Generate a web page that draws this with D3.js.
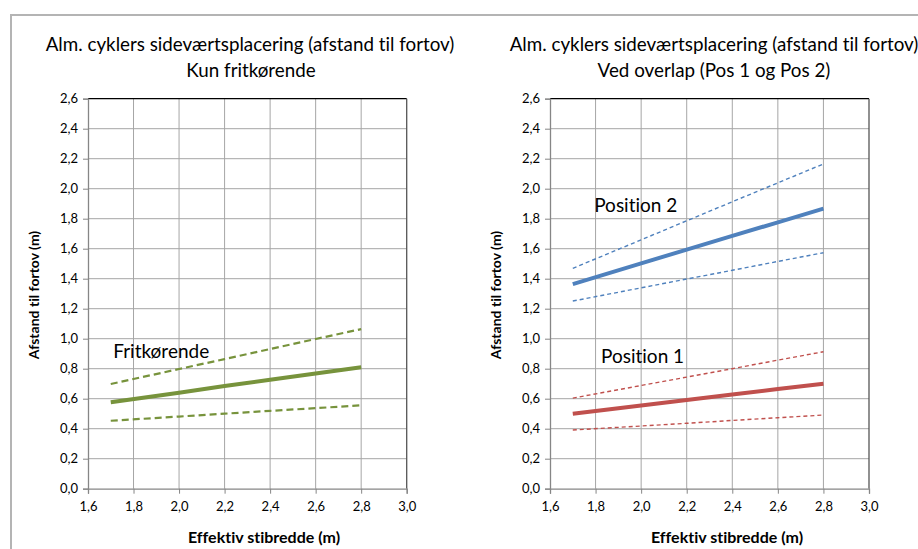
<!DOCTYPE html>
<html>
<head>
<meta charset="utf-8">
<script src="https://cdn.jsdelivr.net/npm/d3@7"></script>
<style>
  body { margin: 0; background: #fff; }
  svg { display: block; font-family: Lato, "Open Sans", sans-serif; font-variant-ligatures: none; }
</style>
</head>
<body>
<svg id="chart" width="918" height="549"></svg>
<script>
// x values (effektiv stibredde, m) where the curves were read
var widths = [1.7, 2.0, 2.2, 2.4, 2.6, 2.8];

// left panel: fritkørende
var friMid = [0.576, 0.640, 0.684, 0.726, 0.768, 0.809];
var friHigh = [0.698, 0.798, 0.864, 0.931, 0.998, 1.064];
var friLow = [0.453, 0.481, 0.500, 0.519, 0.537, 0.556];

// right panel: position 2 (blue)
var pos2Mid = [1.364, 1.502, 1.594, 1.685, 1.776, 1.867];
var pos2High = [1.469, 1.659, 1.786, 1.913, 2.039, 2.165];
var pos2Low = [1.251, 1.339, 1.398, 1.456, 1.515, 1.573];

// right panel: position 1 (red)
var pos1Mid = [0.500, 0.555, 0.592, 0.628, 0.664, 0.700];
var pos1High = [0.604, 0.688, 0.744, 0.800, 0.857, 0.913];
var pos1Low = [0.391, 0.418, 0.436, 0.455, 0.473, 0.491];

var xTicks = [1.6, 1.8, 2.0, 2.2, 2.4, 2.6, 2.8, 3.0];
var yTicks = [0, 0.2, 0.4, 0.6, 0.8, 1.0, 1.2, 1.4, 1.6, 1.8, 2.0, 2.2, 2.4, 2.6];

var titleTop = "Alm. cyklers sideværtsplacering (afstand til fortov)";
var fmt = function (v) { return d3.format(".1f")(v).replace(".", ","); };

var svg = d3.select("#chart");

// outer frame
svg.append("path")
  .attr("d", "M11,549 L11,15 L918,15")
  .attr("fill", "none")
  .attr("stroke", "#b4b4b4")
  .attr("stroke-width", 2);

function panel(opts) {
  var top = 98.7, bottom = 488.7;
  var x = d3.scaleLinear().domain([1.6, 3.0]).range([opts.left, opts.right]);
  var y = d3.scaleLinear().domain([0, 2.6]).range([bottom, top]);
  var g = svg.append("g");

  // titles
  g.append("text")
    .attr("x", opts.cx).attr("y", 51)
    .attr("text-anchor", "middle")
    .style("font-size", "18.8px")
    .attr("fill", "#000")
    .text(titleTop);
  g.append("text")
    .attr("x", opts.cx2).attr("y", 77)
    .attr("text-anchor", "middle")
    .style("font-size", "18.8px")
    .attr("fill", "#000")
    .text(opts.sub);

  // grid
  g.append("g").selectAll("line").data(xTicks.slice(1, -1)).enter().append("line")
    .attr("x1", function (d) { return x(d); }).attr("x2", function (d) { return x(d); })
    .attr("y1", top).attr("y2", bottom)
    .attr("stroke", "#a6a6a6").attr("stroke-width", 1);
  g.append("g").selectAll("line").data(yTicks.slice(1, -1)).enter().append("line")
    .attr("x1", opts.left).attr("x2", opts.right)
    .attr("y1", function (d) { return y(d); }).attr("y2", function (d) { return y(d); })
    .attr("stroke", "#a6a6a6").attr("stroke-width", 1);

  // plot border top / right
  g.append("line").attr("x1", opts.left).attr("x2", opts.right)
    .attr("y1", top).attr("y2", top).attr("stroke", "#000").attr("stroke-width", 1.3);
  g.append("line").attr("x1", opts.right).attr("x2", opts.right)
    .attr("y1", top).attr("y2", bottom).attr("stroke", "#555").attr("stroke-width", 1.3);

  // axes
  var xAxis = g.append("g")
    .attr("transform", "translate(0," + bottom + ")")
    .call(d3.axisBottom(x).tickValues(xTicks).tickFormat(fmt).tickSizeOuter(0).tickSize(5).tickPadding(8));
  var yAxis = g.append("g")
    .attr("transform", "translate(" + opts.left + ",0)")
    .call(d3.axisLeft(y).tickValues(yTicks).tickFormat(fmt).tickSizeOuter(0).tickSize(5).tickPadding(5));
  [xAxis, yAxis].forEach(function (a) {
    a.select(".domain").attr("stroke", "#868686").attr("stroke-width", 1.3);
    a.selectAll(".tick line").attr("stroke", "#868686");
    a.selectAll(".tick text").attr("fill", "#000").style("font-size", "13px")
      .style("font-family", "Lato, sans-serif");
  });

  // axis titles
  g.append("text")
    .attr("x", opts.xtx).attr("y", 543)
    .attr("text-anchor", "middle")
    .style("font-size", "16px").style("font-weight", "bold")
    .text("Effektiv stibredde (m)");
  g.append("text")
    .attr("transform", "translate(" + opts.ytx + ",295) rotate(-90)")
    .attr("text-anchor", "middle")
    .style("font-size", "14px").style("font-weight", "bold")
    .text("Afstand til fortov (m)");

  var line = d3.line()
    .x(function (d) { return x(d[0]); })
    .y(function (d) { return y(d[1]); });

  opts.series.forEach(function (s) {
    g.append("path")
      .datum(d3.zip(widths, s.values))
      .attr("d", line)
      .attr("fill", "none")
      .attr("stroke", s.color)
      .attr("stroke-width", s.width)
      .attr("stroke-dasharray", s.dash || null);
  });

  opts.labels.forEach(function (l) {
    g.append("text")
      .attr("x", x(l.x)).attr("y", y(l.y))
      .style("font-size", "19px")
      .attr("fill", "#000")
      .text(l.text);
  });
}

var green = "#77933c", blue = "#4f81bd", red = "#c0504d";

panel({
  left: 88, right: 406.7, cx: 250, cx2: 251, xtx: 264, ytx: 39,
  sub: "Kun fritkørende",
  series: [
    { values: friHigh, color: green, width: 2.2, dash: "7,4" },
    { values: friLow, color: green, width: 2.2, dash: "7,4" },
    { values: friMid, color: green, width: 4 }
  ],
  labels: [{ x: 1.711, y: 0.871, text: "Fritkørende" }]
});

panel({
  left: 550, right: 869, cx: 714, cx2: 714, xtx: 727, ytx: 501,
  sub: "Ved overlap (Pos 1 og Pos 2)",
  series: [
    { values: pos2High, color: blue, width: 1.4, dash: "4,3" },
    { values: pos2Low, color: blue, width: 1.4, dash: "4,3" },
    { values: pos2Mid, color: blue, width: 4 },
    { values: pos1High, color: red, width: 1.4, dash: "4,3" },
    { values: pos1Low, color: red, width: 1.4, dash: "4,3" },
    { values: pos1Mid, color: red, width: 4 }
  ],
  labels: [
    { x: 1.794, y: 1.845, text: "Position 2" },
    { x: 1.824, y: 0.838, text: "Position 1" }
  ]
});
</script>
</body>
</html>
